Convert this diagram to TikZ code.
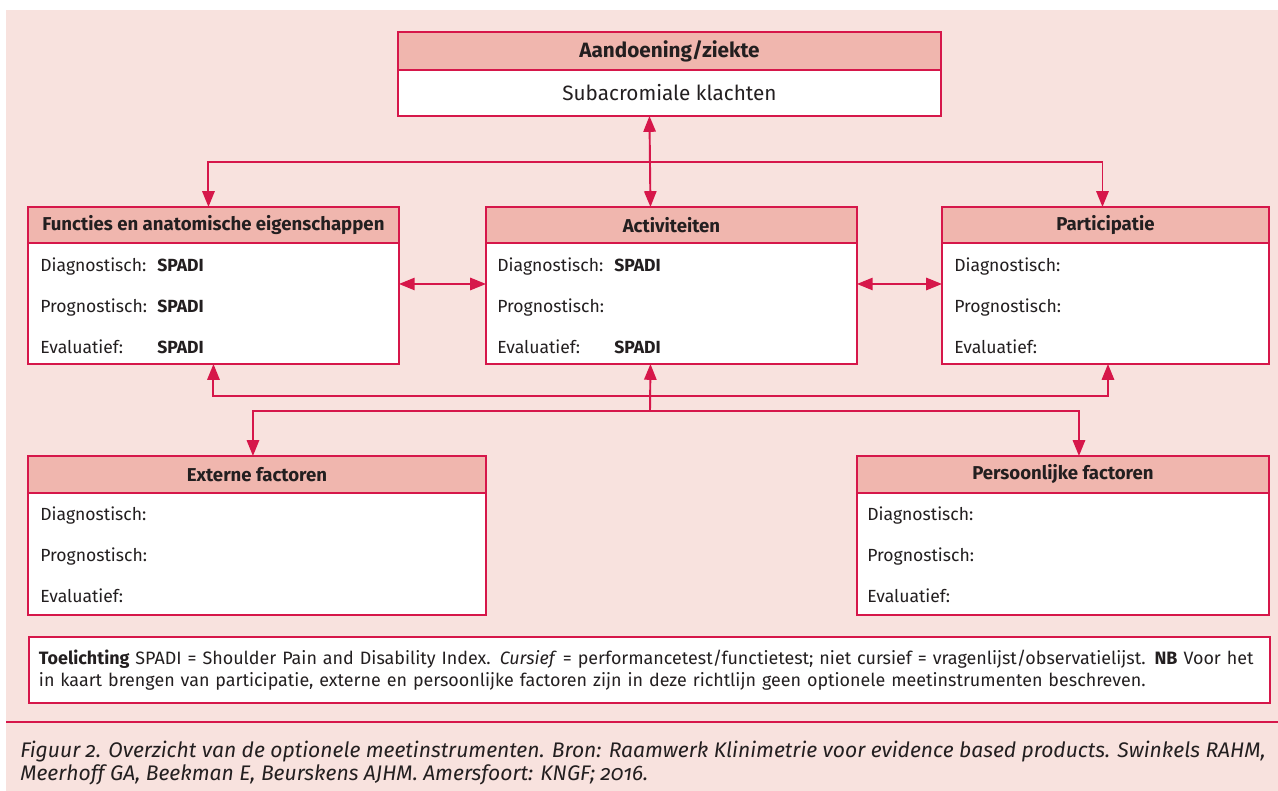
\documentclass[tikz,border=0pt]{standalone}
\usepackage{fontspec}
\setmainfont{Fira Sans}
\usepackage{xcolor}
\usetikzlibrary{arrows.meta,positioning,calc}
\definecolor{kngfred}{RGB}{214, 23, 74}
\definecolor{softpink}{RGB}{248, 226, 222}
\definecolor{headpink}{RGB}{240, 182, 174}
\definecolor{inkgray}{RGB}{35, 31, 32}
\newcommand{\fld}[1]{\makebox[2.34cm][l]{#1}}
\newcommand{\rowgap}{\\[11.5pt]}
\tikzset{
  headbox/.style={
    draw=kngfred,
    line width=1.1pt,
    fill=headpink,
    text=inkgray,
    font=\bfseries\fontsize{10.6}{12}\selectfont,
    inner sep=0pt,
    outer sep=0pt,
    minimum height=0.72cm,
    anchor=north west
  },
  bodybox/.style={
    draw=kngfred,
    line width=1.1pt,
    fill=white,
    inner sep=0pt,
    outer sep=0pt
  },
  rowtext/.style={
    text=inkgray,
    font=\fontsize{10}{12}\selectfont,
    align=left,
    inner sep=0pt,
    anchor=north west
  },
  linkline/.style={
    draw=kngfred,
    line width=1.1pt
  },
  >={Triangle[length=9pt,width=7pt]}
}

\begin{document}
\begin{tikzpicture}[x=0.02cm, y=-0.02cm]
  \useasboundingbox (0,0) rectangle (1278,791);
  \fill[softpink] (6,10) rectangle (1278,791);

  % condition
  \node[headbox, minimum width=10.86cm, minimum height=0.76cm,
        font=\bfseries\fontsize{11.8}{13}\selectfont] (top-h) at (398,32) {Aandoening/ziekte};
  \node[bodybox, minimum width=10.86cm, minimum height=0.92cm, text=inkgray,
        font=\fontsize{11.8}{13}\selectfont, below=0pt of top-h] (top) {Subacromiale klachten};

  % functions, activities, participation
  \node[headbox, minimum width=7.42cm] (fae-h) at (28,207) {Functies en anatomische eigenschappen};
  \node[bodybox, minimum width=7.42cm, minimum height=2.42cm, below=0pt of fae-h] (fae) {};
  \node[rowtext] (fae-t) at ([shift={(0.24cm,-0.28cm)}]fae.north west)
    {\fld{Diagnostisch:}\textbf{SPADI}\rowgap
     \fld{Prognostisch:}\textbf{SPADI}\rowgap
     \fld{Evaluatief:}\textbf{SPADI}};

  \node[headbox, minimum width=7.42cm] (act-h) at (486,207) {Activiteiten};
  \node[bodybox, minimum width=7.42cm, minimum height=2.42cm, below=0pt of act-h] (act) {};
  \node[rowtext] (act-t) at ([shift={(0.22cm,-0.28cm)}]act.north west)
    {\fld{Diagnostisch:}\textbf{SPADI}\rowgap
     \fld{Prognostisch:}\rowgap
     \fld{Evaluatief:}\textbf{SPADI}};

  \node[headbox, minimum width=6.54cm] (part-h) at (942,207) {Participatie};
  \node[bodybox, minimum width=6.54cm, minimum height=2.42cm, below=0pt of part-h] (part) {};
  \node[rowtext] (part-t) at ([shift={(0.24cm,-0.28cm)}]part.north west)
    {Diagnostisch:\rowgap Prognostisch:\rowgap Evaluatief:};

  % factors
  \node[headbox, minimum width=9.16cm, minimum height=0.74cm] (ext-h) at (28,456) {Externe factoren};
  \node[bodybox, minimum width=9.16cm, minimum height=2.44cm, below=0pt of ext-h] (ext) {};
  \node[rowtext] (ext-t) at ([shift={(0.24cm,-0.26cm)}]ext.north west)
    {Diagnostisch:\rowgap Prognostisch:\rowgap Evaluatief:};

  \node[headbox, minimum width=8.24cm, minimum height=0.74cm] (pers-h) at (857,456) {Persoonlijke factoren};
  \node[bodybox, minimum width=8.24cm, minimum height=2.44cm, below=0pt of pers-h] (pers) {};
  \node[rowtext] (pers-t) at ([shift={(0.2cm,-0.26cm)}]pers.north west)
    {Diagnostisch:\rowgap Prognostisch:\rowgap Evaluatief:};

  % connectors
  \coordinate (tophub) at (650,162);
  \coordinate (midhub) at (650,396);
  \coordinate (lowhub) at (650,411);
  \draw[linkline, <->] ([xshift=-0.4cm]top.south) -- ([xshift=-0.42cm]act-h.north);
  \draw[linkline, <->] ([xshift=-0.1cm]fae-h.north) |- (tophub) -| ([xshift=-0.06cm]part-h.north);
  \draw[linkline, <->] ([yshift=0.39cm]fae.east) -- ([yshift=0.39cm]act.west);
  \draw[linkline, <->] ([yshift=0.39cm]act.east) -- ([yshift=0.39cm]part.west);
  \draw[linkline, <->] (fae.south) |- (midhub) -| ([xshift=0.05cm]part.south);
  \draw[linkline, ->] (lowhub) -- ([xshift=-0.42cm]act.south);
  \draw[linkline, <->] ([xshift=-0.08cm]ext-h.north) |- (lowhub) -| ([xshift=0.32cm]pers-h.north);

  % note
  \node[draw=kngfred, line width=1.1pt, fill=white, text=inkgray, anchor=north west,
        minimum width=24.82cm, minimum height=1.32cm, text width=24.42cm,
        inner xsep=0.2cm, inner ysep=0pt, align=left,
        font=\fontsize{10.2}{12.5}\selectfont] (note) at (28,636)
    {\textbf{Toelichting} SPADI = Shoulder Pain and Disability Index. \textit{Cursief} = performancetest/functietest; niet cursief = vragenlijst/observatielijst. \textbf{NB} Voor het\\
     in kaart brengen van participatie, externe en persoonlijke factoren zijn in deze richtlijn geen optionele meetinstrumenten beschreven.};

  \draw[kngfred, line width=1.3pt] (6,722) -- (1278,722);

  % caption
  \node[text=inkgray, anchor=west, align=left, inner sep=0pt,
        font=\itshape\fontsize{12}{13.6}\selectfont\addfontfeature{Numbers=OldStyle}] (caption) at (20,763)
    {Figuur 2. Overzicht van de optionele meetinstrumenten. Bron: Raamwerk Klinimetrie voor evidence based products. Swinkels RAHM,\\
     Meerhoff GA, Beekman E, Beurskens AJHM. Amersfoort: KNGF; 2016.};
\end{tikzpicture}
\end{document}
